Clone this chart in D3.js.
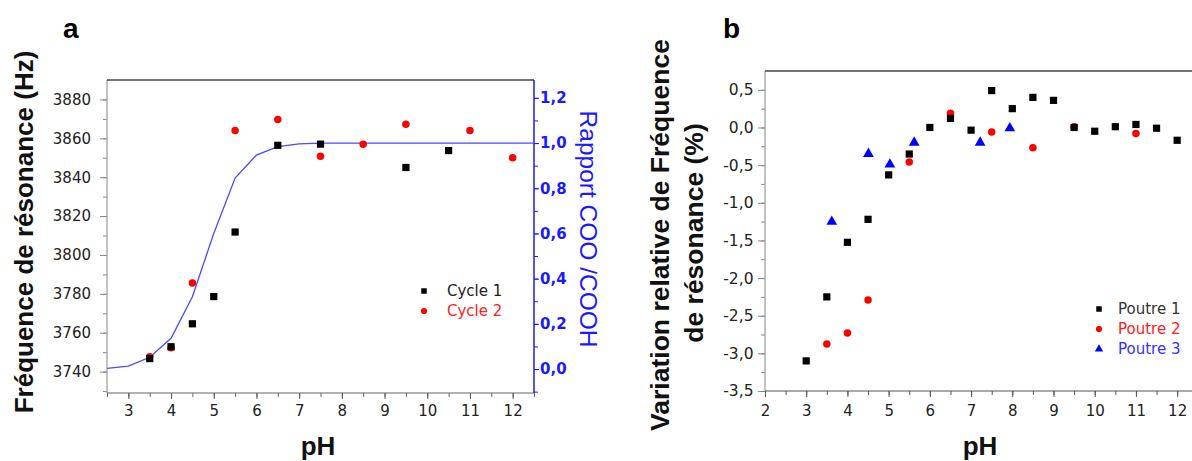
<html>
<head>
<style>
  body { margin: 0; background: #fff; }
  svg text { font-family: "Liberation Sans", Arial, sans-serif; }
  svg .tk text, svg .leg { font-family: "DejaVu Sans", sans-serif; }
</style>
<script src="https://cdnjs.cloudflare.com/ajax/libs/d3/7.8.5/d3.min.js"></script>
</head>
<body>
<script>
// ---- panel a data ----
const cycle1pH = [3.5, 4.0, 4.5, 5.0, 5.5, 6.5, 7.5, 9.5, 10.5];
const cycle1Hz = [3746.7, 3752.8, 3764.6, 3778.6, 3811.8, 3856.4, 3857.0, 3845.0, 3853.7];
const cycle2pH = [3.5, 4.0, 4.5, 5.5, 6.5, 7.5, 8.5, 9.5, 11.0, 12.0];
const cycle2Hz = [3747.7, 3752.3, 3785.6, 3864.0, 3869.7, 3850.8, 3857.0, 3867.2, 3864.0, 3850.0];
const fitpH = [2.5, 3.0, 3.5, 4.0, 4.5, 5.0, 5.5, 6.0, 6.5, 7.0, 7.5, 8.0, 9.0, 10.0, 11.0, 12.0, 12.5];
const fitRatio = [0.003, 0.013, 0.052, 0.136, 0.32, 0.6, 0.845, 0.947, 0.984, 0.996, 1.0, 1.0, 1.0, 1.0, 1.0, 1.0, 1.0];
const aXTicks = [3, 4, 5, 6, 7, 8, 9, 10, 11, 12];
const aYTicks = [3740, 3760, 3780, 3800, 3820, 3840, 3860, 3880];
const aRTicks = [0, 0.2, 0.4, 0.6, 0.8, 1.0, 1.2];

// ---- panel b data ----
const p1pH = [3.0, 3.5, 4.0, 4.5, 5.0, 5.5, 6.0, 6.5, 7.0, 7.5, 8.0, 8.5, 9.0, 9.5, 10.0, 10.5, 11.0, 11.5, 12.0];
const p1Var = [-3.10, -2.25, -1.525, -1.22, -0.63, -0.353, 0.0, 0.12, -0.036, 0.49, 0.25, 0.40, 0.36, 0.0, -0.05, 0.01, 0.04, -0.01, -0.17];
const p2pH = [3.5, 4.0, 4.5, 5.5, 6.5, 7.5, 8.5, 9.5, 11.0];
const p2Var = [-2.876, -2.73, -2.29, -0.46, 0.19, -0.06, -0.27, 0.01, -0.08];
const p3pH = [3.62, 4.51, 5.03, 5.62, 7.22, 7.94];
const p3Var = [-1.25, -0.35, -0.49, -0.2, -0.2, -0.01];
const bXTicks = [2, 3, 4, 5, 6, 7, 8, 9, 10, 11, 12];
const bYTicks = [-3.5, -3.0, -2.5, -2.0, -1.5, -1.0, -0.5, 0.0, 0.5];

const fmt1 = d => d3.format(".1f")(d).replace(".", ",").replace("−", "-");

const svg = d3.select("body").append("svg").attr("width", 1192).attr("height", 461);

function styleAxis(g, color, fontSize, weight, fill) {
  g.attr("class", "tk");
  g.select(".domain").remove();
  g.selectAll("line").attr("stroke", color).attr("stroke-width", 1);
  g.selectAll("text").attr("fill", fill).attr("font-size", fontSize)
    .attr("font-weight", weight).attr("font-family", "DejaVu Sans, sans-serif");
}

// ================= panel a =================
const xA = d3.scaleLinear().domain([2.5, 12.5]).range([107, 534]);
const yA = d3.scaleLinear().domain([3729, 3890]).range([393, 80]);
const yR = d3.scaleLinear().domain([-0.106, 1.279]).range([393, 80]);

const ga = svg.append("g");

// minor ticks
ga.append("g").attr("transform", "translate(0,393)")
  .call(d3.axisBottom(xA).tickValues(d3.range(2.5, 12.51, 0.5)).tickSize(4).tickFormat(""))
  .call(g => styleAxis(g, "#666", 0, "normal", "#000"));
ga.append("g").attr("transform", "translate(107,0)")
  .call(d3.axisLeft(yA).tickValues(d3.range(3730, 3890, 10)).tickSize(4).tickFormat(""))
  .call(g => styleAxis(g, "#888", 0, "normal", "#000"));
ga.append("g").attr("transform", "translate(534,0)")
  .call(d3.axisRight(yR).tickValues(d3.range(-0.1, 1.25, 0.1)).tickSize(4).tickFormat(""))
  .call(g => styleAxis(g, "#1a1aff", 0, "normal", "#000"));

// major ticks
ga.append("g").attr("transform", "translate(0,393)")
  .call(d3.axisBottom(xA).tickValues(aXTicks).tickSize(6).tickPadding(6).tickFormat(d3.format("d")))
  .call(g => styleAxis(g, "#555", 15, "normal", "#222"));
ga.append("g").attr("transform", "translate(107,0)")
  .call(d3.axisLeft(yA).tickValues(aYTicks).tickSize(7).tickPadding(9).tickFormat(d3.format("d")))
  .call(g => styleAxis(g, "#888", 15, "normal", "#222"));
ga.append("g").attr("transform", "translate(534,0)")
  .call(d3.axisRight(yR).tickValues(aRTicks).tickSize(5).tickPadding(1).tickFormat(fmt1))
  .call(g => styleAxis(g, "#1a1aff", 15, "bold", "#1a1aff"));

// axis lines
ga.append("line").attr("x1", 107).attr("x2", 107).attr("y1", 80).attr("y2", 393).attr("stroke", "#999").attr("stroke-width", 1.2);
ga.append("line").attr("x1", 107).attr("x2", 534).attr("y1", 393).attr("y2", 393).attr("stroke", "#666").attr("stroke-width", 1.2);
ga.append("line").attr("x1", 107).attr("x2", 534).attr("y1", 80).attr("y2", 80).attr("stroke", "#444").attr("stroke-width", 1.3);
ga.append("line").attr("x1", 534).attr("x2", 534).attr("y1", 80).attr("y2", 393).attr("stroke", "#1a1aff").attr("stroke-width", 1.5);

// fit curve
ga.append("path")
  .attr("d", d3.line().x((d, i) => xA(fitpH[i])).y(d => yR(d))(fitRatio))
  .attr("fill", "none").attr("stroke", "#4a4aff").attr("stroke-width", 1.3);

const sq = d3.symbol().type(d3.symbolSquare).size(52);
const circ = d3.symbol().type(d3.symbolCircle).size(44);
const tri = d3.symbol().type(d3.symbolTriangle).size(50);

ga.selectAll(".c2").data(cycle2Hz).enter().append("path")
  .attr("d", circ).attr("fill", "#ff0000")
  .attr("transform", (d, i) => `translate(${xA(cycle2pH[i])},${yA(d)})`);
ga.selectAll(".c1").data(cycle1Hz).enter().append("path")
  .attr("d", sq).attr("fill", "#000")
  .attr("transform", (d, i) => `translate(${xA(cycle1pH[i])},${yA(d)})`);

// legend a
const legA = [{t: "Cycle 1", c: "#222", f: "#000", type: d3.symbolSquare},
              {t: "Cycle 2", c: "#ff2020", f: "#ff0000", type: d3.symbolCircle}];
legA.forEach((l, i) => {
  ga.append("path").attr("d", d3.symbol().type(l.type).size(30))
    .attr("fill", l.f).attr("transform", `translate(424,${291 + i * 20})`);
  ga.append("text").attr("class", "leg").attr("x", 447).attr("y", 291 + i * 20).attr("dy", "0.36em")
    .attr("font-size", 15).attr("fill", l.c).text(l.t);
});

// labels a
ga.append("text").attr("x", 63).attr("y", 38).attr("font-size", 28).attr("font-weight", "bold").text("a");
ga.append("text").attr("transform", "translate(33,232) rotate(-90)").attr("text-anchor", "middle")
  .attr("font-size", 26).attr("font-weight", "bold").attr("fill", "#111").text("Fréquence de résonance (Hz)");
ga.append("text").attr("x", 318).attr("y", 455).attr("text-anchor", "middle")
  .attr("font-size", 26).attr("font-weight", "bold").attr("fill", "#111").text("pH");
ga.append("text").attr("transform", "translate(580,229) rotate(90)").attr("text-anchor", "middle")
  .attr("font-size", 24.5).attr("fill", "#1a1aff").text("Rapport COO /COOH");

// ================= panel b =================
const xB = d3.scaleLinear().domain([2, 12.36]).range([765, 1192]);
const yB = d3.scaleLinear().domain([-3.5, 0.75]).range([391, 71]);
const gb = svg.append("g");

gb.append("g").attr("transform", "translate(0,391)")
  .call(d3.axisBottom(xB).tickValues(d3.range(2.5, 12.01, 0.5)).tickSize(4).tickFormat(""))
  .call(g => styleAxis(g, "#555", 0, "normal", "#000"));
gb.append("g").attr("transform", "translate(765,0)")
  .call(d3.axisLeft(yB).tickValues(d3.range(-3.25, 0.75, 0.25)).tickSize(4).tickFormat(""))
  .call(g => styleAxis(g, "#888", 0, "normal", "#000"));

gb.append("g").attr("transform", "translate(0,391)")
  .call(d3.axisBottom(xB).tickValues(bXTicks).tickSize(6).tickPadding(8).tickFormat(d3.format("d")))
  .call(g => styleAxis(g, "#555", 15, "normal", "#222"));
gb.append("g").attr("transform", "translate(765,0)")
  .call(d3.axisLeft(yB).tickValues(bYTicks).tickSize(7).tickPadding(4.5).tickFormat(fmt1))
  .call(g => styleAxis(g, "#888", 15.5, "normal", "#222"));

gb.append("line").attr("x1", 765).attr("x2", 765).attr("y1", 71).attr("y2", 391).attr("stroke", "#999").attr("stroke-width", 1.2);
gb.append("line").attr("x1", 765).attr("x2", 1192).attr("y1", 391).attr("y2", 391).attr("stroke", "#555").attr("stroke-width", 1.2);
gb.append("line").attr("x1", 765).attr("x2", 1192).attr("y1", 71).attr("y2", 71).attr("stroke", "#444").attr("stroke-width", 1.3);

gb.selectAll(".p2").data(p2Var).enter().append("path")
  .attr("d", circ).attr("fill", "#ff0000")
  .attr("transform", (d, i) => `translate(${xB(p2pH[i])},${yB(d)})`);
gb.selectAll(".p1").data(p1Var).enter().append("path")
  .attr("d", sq).attr("fill", "#000")
  .attr("transform", (d, i) => `translate(${xB(p1pH[i])},${yB(d)})`);
gb.selectAll(".p3").data(p3Var).enter().append("path")
  .attr("d", tri).attr("fill", "#0000ff")
  .attr("transform", (d, i) => `translate(${xB(p3pH[i])},${yB(d)})`);

const legB = [
  {t: "Poutre 1", c: "#333", f: "#000", type: d3.symbolSquare},
  {t: "Poutre 2", c: "#ff2020", f: "#ff0000", type: d3.symbolCircle},
  {t: "Poutre 3", c: "#3333ff", f: "#0000ff", type: d3.symbolTriangle}
];
legB.forEach((l, i) => {
  gb.append("path").attr("d", d3.symbol().type(l.type).size(30))
    .attr("fill", l.f).attr("transform", `translate(1099,${309 + i * 20})`);
  gb.append("text").attr("class", "leg").attr("x", 1118).attr("y", 309 + i * 20).attr("dy", "0.36em")
    .attr("font-size", 15).attr("fill", l.c).text(l.t);
});

gb.append("text").attr("x", 723).attr("y", 38).attr("font-size", 28).attr("font-weight", "bold").text("b");
gb.append("text").attr("transform", "translate(669,235) rotate(-90)").attr("text-anchor", "middle")
  .attr("font-size", 26.5).attr("font-weight", "bold").attr("fill", "#111").text("Variation relative de Fréquence");
gb.append("text").attr("transform", "translate(703,233) rotate(-90)").attr("text-anchor", "middle")
  .attr("font-size", 26.5).attr("font-weight", "bold").attr("fill", "#111").text("de résonance (%)");
gb.append("text").attr("x", 980).attr("y", 455).attr("text-anchor", "middle")
  .attr("font-size", 26).attr("font-weight", "bold").attr("fill", "#111").text("pH");
</script>
</body>
</html>
